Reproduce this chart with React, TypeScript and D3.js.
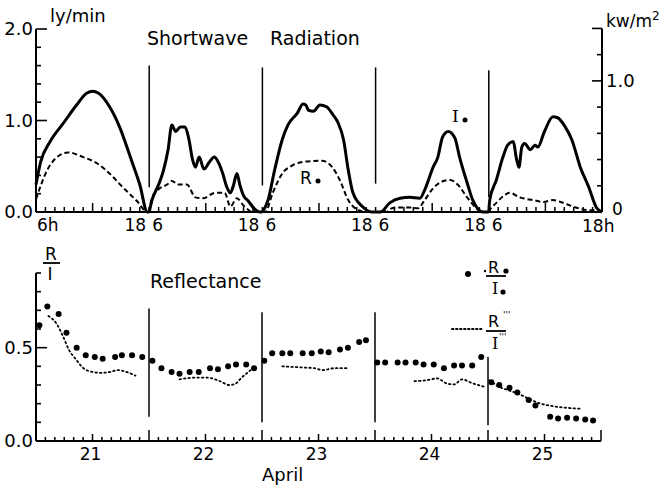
import React from "react";
import * as d3 from "d3";

// ---------- data (top panel: hour of day, ly/min) ----------
const days = [21, 22, 23, 24, 25];

const I_21 = [[6,0.30],[6.5,0.55],[7.5,0.77],[8.9,0.97],[10.3,1.17],[11.4,1.30],[12.0,1.32],[12.6,1.30],[13.8,1.15],[14.9,0.92],[16.0,0.60],[17.0,0.30],[17.8,0.0],[18,0]];
const R_21 = [[6,0.14],[7.2,0.46],[8.5,0.62],[9.4,0.65],[11.0,0.60],[12.5,0.53],[13.8,0.42],[15.2,0.27],[16.7,0.12],[17.8,0],[18,0]];
const I_22 = [[6,0],[6.3,0.13],[7.0,0.30],[7.5,0.45],[8.0,0.68],[8.4,0.95],[8.8,0.88],[9.3,0.93],[9.8,0.93],[10.2,0.80],[10.6,0.57],[10.9,0.49],[11.3,0.60],[11.8,0.47],[12.4,0.55],[12.9,0.60],[13.3,0.55],[13.8,0.42],[14.2,0.28],[14.6,0.21],[14.9,0.28],[15.3,0.42],[15.6,0.30],[16.0,0.18],[16.5,0.12],[17.2,0.03],[17.7,0],[18,0]];
const R_22 = [[6,0],[6.2,0.12],[6.9,0.24],[7.9,0.30],[8.4,0.34],[9.1,0.30],[10.0,0.30],[10.9,0.16],[11.7,0.15],[13.0,0.21],[14.0,0.21],[14.6,0.06],[15.3,0.15],[16.0,0.07],[17.0,0],[18,0]];
const I_23 = [[6,0],[6.6,0.13],[7.3,0.46],[8.1,0.79],[8.7,0.95],[9.7,1.08],[10.3,1.18],[10.6,1.17],[10.9,1.11],[11.4,1.10],[12.1,1.17],[12.8,1.15],[13.5,1.06],[14.0,0.98],[14.6,0.79],[15.1,0.46],[15.6,0.21],[16.6,0.06],[17.6,0],[18,0]];
const R_23 = [[6,0],[6.3,0],[7.1,0.21],[8.1,0.42],[9.2,0.51],[10.5,0.55],[12.3,0.56],[13.4,0.49],[14.2,0.35],[15.1,0.13],[16.2,0.02],[17,0],[18,0]];
const I_24 = [[6,0],[6.5,0],[7.5,0.10],[8.6,0.15],[9.6,0.16],[10.7,0.15],[11.2,0.24],[12.1,0.49],[12.6,0.60],[13.1,0.82],[13.7,0.88],[14.4,0.81],[14.9,0.60],[15.7,0.32],[16.3,0.13],[17.4,0],[18,0]];
const R_24 = [[6,0],[7.2,0],[7.5,0.03],[8.3,0.05],[9.5,0.05],[10.5,0.04],[11.2,0.13],[12.1,0.26],[13.0,0.33],[13.9,0.35],[14.7,0.30],[15.7,0.16],[16.7,0.04],[17.4,0],[18,0]];
const I_25 = [[6,0],[6.1,0.13],[6.8,0.35],[7.5,0.60],[8.0,0.73],[8.6,0.77],[8.9,0.60],[9.2,0.49],[9.5,0.71],[9.8,0.75],[10.4,0.68],[10.9,0.73],[11.2,0.71],[11.9,0.88],[12.8,1.04],[13.3,1.03],[14.1,0.93],[14.8,0.79],[15.7,0.49],[16.6,0.27],[17.4,0.05],[18,0]];
const R_25 = [[6,0],[6.1,0.02],[6.8,0.10],[7.5,0.17],[8.2,0.21],[9.3,0.16],[10.7,0.13],[11.8,0.11],[12.8,0.13],[13.9,0.10],[15.2,0.05],[16.5,0.02],[17.5,0.02],[18,0]];

const I_days = [I_21, I_22, I_23, I_24, I_25];
const R_days = [R_21, R_22, R_23, R_24, R_25];

// ---------- data (bottom panel: fractional day, R/I) ----------
const refT = [20.53,20.60,20.70,20.77,20.86,20.94,21.02,21.09,21.20,21.26,21.35,21.44,
  21.53,21.61,21.70,21.77,21.86,21.94,22.04,22.11,22.20,22.27,22.36,22.43,
  22.52,22.59,22.68,22.75,22.86,22.94,23.02,23.09,23.19,23.26,23.36,23.42,
  23.52,23.59,23.70,23.77,23.86,23.93,24.02,24.11,24.20,24.27,24.36,24.44,
  24.53,24.60,24.69,24.76,24.86,24.92,25.05,25.12,25.20,25.28,25.36,25.43];
const refV = [0.62,0.72,0.68,0.58,0.50,0.46,0.45,0.44,0.45,0.46,0.46,0.45,
  0.43,0.39,0.37,0.36,0.37,0.37,0.39,0.385,0.40,0.41,0.41,0.39,
  0.43,0.47,0.47,0.47,0.47,0.47,0.48,0.475,0.49,0.50,0.53,0.54,
  0.42,0.42,0.42,0.42,0.42,0.41,0.41,0.39,0.405,0.405,0.405,0.45,
  0.315,0.30,0.285,0.26,0.22,0.19,0.13,0.12,0.125,0.12,0.115,0.11];

const seg21 = [[20.61,0.67],[20.68,0.63],[20.74,0.56],[20.79,0.49],[20.85,0.44],[20.92,0.39],[21.0,0.37],[21.07,0.365],[21.16,0.37],[21.22,0.38],[21.30,0.37],[21.38,0.35]];
const seg22 = [[21.77,0.33],[21.92,0.34],[22.01,0.34],[22.13,0.32],[22.21,0.30],[22.26,0.305],[22.32,0.34],[22.38,0.37],[22.42,0.39]];
const seg23 = [[22.68,0.40],[22.83,0.395],[22.96,0.39],[23.04,0.38],[23.14,0.39],[23.25,0.39]];
const seg24 = [[23.85,0.32],[23.95,0.325],[24.05,0.335],[24.14,0.307],[24.20,0.303],[24.27,0.33],[24.36,0.31],[24.47,0.29]];
const seg25 = [[24.51,0.325],[24.60,0.29],[24.69,0.27],[24.78,0.25],[24.86,0.227],[24.95,0.203],[25.04,0.19],[25.16,0.18],[25.31,0.173]];
const ratioSegs = [seg21, seg22, seg23, seg24, seg25];

// boundary markers: top vertical line extents (ly/min) and bottom (R/I)
const topLineTop = [1.60, 1.58, 1.58, 1.55];
const topLineBot = [0.27, 0.29, 0.31, 0.16];
const botLineTop = [0.71, 0.69, 0.69, 0.45];
const botLineBot = [0.13, 0.10, 0.10, 0.085];

const leftTopTicks = [0, 0.2, 0.4, 0.6, 0.8, 1.0, 1.2, 1.4, 1.6, 1.8, 2.0];
const rightTicks = [0, 0.2, 0.4, 0.6, 0.8, 1.0, 1.2, 1.4];
const botTicks = [0, 0.1, 0.2, 0.3, 0.4, 0.5, 0.6, 0.7, 0.8, 0.9];

const FONT = "DejaVu Sans";

export default function App() {
  const xT = d3.scaleLinear().domain([0, 60]).range([36, 602]);
  const yT = d3.scaleLinear().domain([0, 2]).range([212, 29]);
  const yK = d3.scaleLinear().domain([0, 1]).range([212, 212 - 1.4331 * 91.5]);
  const xB = d3.scaleLinear().domain([20.5, 25.5]).range([36, 601]);
  const yB = d3.scaleLinear().domain([0, 0.9]).range([441, 273]);

  const lineFor = (di: number) =>
    d3.line<number[]>()
      .x((p) => xT(di * 12 + (p[0] - 6)))
      .y((p) => yT(p[1]))
      .curve(d3.curveMonotoneX);

  const segLine = d3.line<number[]>().x((p) => xB(p[0])).y((p) => yB(p[1])).curve(d3.curveMonotoneX);

  const hourTicks = d3.range(0, 61);
  const botXTicks = d3.range(0, 61).map((i) => 20.5 + i / 12);
  const boundaries = [1, 2, 3, 4];

  const txt = { fontFamily: FONT, fill: "#000" } as any;

  return (
    <svg width={663} height={485} style={{ position: "absolute", left: 0, top: 0, background: "#fff" }}>
      <rect x={0} y={0} width={663} height={485} fill="#fff" />
      {/* ---------- TOP PANEL ---------- */}
      <line x1={36} x2={36} y1={yT(2)} y2={yT(0)} stroke="#000" strokeWidth={2} />
      <line x1={36} x2={602} y1={yT(0)} y2={yT(0)} stroke="#000" strokeWidth={2} />
      <line x1={602} x2={602} y1={yK(1.4)} y2={yK(0)} stroke="#000" strokeWidth={2} />
      {leftTopTicks.map((v) => (
        <line key={"lt" + v} x1={36} x2={v === 1 || v === 2 ? 47 : 41} y1={yT(v)} y2={yT(v)} stroke="#000" strokeWidth={1.6} />
      ))}
      {rightTicks.map((v) => (
        <line key={"rt" + v} x1={v === 1 || v === 1.4 ? 592 : 597} x2={602} y1={yK(v)} y2={yK(v)} stroke="#000" strokeWidth={1.6} />
      ))}
      {hourTicks.map((t) => (
        <line key={"ht" + t} x1={xT(t)} x2={xT(t)} y1={yT(0)} y2={yT(0) - (t % 12 === 6 ? 9 : 5)} stroke="#000" strokeWidth={1.5} />
      ))}
      <text x={33} y={yT(2) + 6} textAnchor="end" fontSize={18} {...txt}>2.0</text>
      <text x={33} y={yT(1) + 6} textAnchor="end" fontSize={18} {...txt}>1.0</text>
      <text x={33} y={yT(0) + 6} textAnchor="end" fontSize={18} {...txt}>0.0</text>
      <text x={50} y={22} fontSize={18} {...txt}>ly/min</text>
      <text x={606} y={yK(1) + 6} fontSize={18} {...txt}>1.0</text>
      <text x={612} y={yK(0) + 3} fontSize={17} {...txt}>0</text>
      <text x={606} y={27} fontSize={17} {...txt}>kw/m<tspan dy={-7} fontSize={12}>2</tspan></text>
      <text x={147} y={45} fontSize={19} {...txt}>Shortwave</text>
      <text x={270} y={45} fontSize={19} {...txt}>Radiation</text>

      {/* top x labels */}
      <text x={xT(0) + 1} y={231} fontSize={17} {...txt}>6h</text>
      {boundaries.map((b) => (
        <g key={"bl" + b}>
          <text x={xT(b * 12) - 3} y={231} textAnchor="end" fontSize={17} {...txt}>18</text>
          <text x={xT(b * 12) + 3} y={231} fontSize={17} {...txt}>6</text>
        </g>
      ))}
      <text x={xT(60) - 20} y={232} fontSize={17} {...txt}>18h</text>

      {/* boundary lines */}
      {boundaries.map((b, i) => (
        <line key={"tv" + b} x1={xT(b * 12)} x2={xT(b * 12)} y1={yT(topLineTop[i])} y2={yT(topLineBot[i])} stroke="#000" strokeWidth={1.5} />
      ))}

      {/* curves */}
      {R_days.map((d, i) => (
        <path key={"r" + i} d={lineFor(i)(d) || ""} fill="none" stroke="#000" strokeWidth={2} strokeDasharray="5,3" />
      ))}
      {I_days.map((d, i) => (
        <path key={"i" + i} d={lineFor(i)(d) || ""} fill="none" stroke="#000" strokeWidth={3} strokeLinejoin="round" />
      ))}
      <text x={300} y={184} fontSize={17} {...txt}>R</text>
      <circle cx={318} cy={181} r={2.5} fill="#000" />
      <text x={452} y={122} fontSize={17} fontFamily="DejaVu Serif" fill="#000">I</text>
      <circle cx={465} cy={120} r={2.5} fill="#000" />

      {/* ---------- BOTTOM PANEL ---------- */}
      <line x1={36} x2={36} y1={yB(0.9)} y2={yB(0)} stroke="#000" strokeWidth={2} />
      <line x1={36} x2={601} y1={yB(0)} y2={yB(0)} stroke="#000" strokeWidth={2} />
      {botTicks.map((v) => (
        <line key={"bt" + v} x1={36} x2={v === 0.5 ? 47 : 41} y1={yB(v)} y2={yB(v)} stroke="#000" strokeWidth={1.6} />
      ))}
      {botXTicks.map((t, i) => (
        <line key={"bx" + i} x1={xB(t)} x2={xB(t)} y1={yB(0)} y2={yB(0) - (i % 12 === 0 ? 11 : i % 12 === 6 ? 7 : 4)} stroke="#000" strokeWidth={1.5} />
      ))}
      <text x={33} y={yB(0.5) + 6} textAnchor="end" fontSize={18} {...txt}>0.5</text>
      <text x={33} y={yB(0) + 6} textAnchor="end" fontSize={18} {...txt}>0.0</text>
      {days.map((d) => (
        <text key={"dl" + d} x={xB(d) - 2} y={460} textAnchor="middle" fontSize={17} {...txt}>{d}</text>
      ))}
      <text x={262} y={481} fontSize={18} {...txt}>April</text>

      {/* R/I axis label */}
      <text x={51} y={260} textAnchor="middle" fontSize={17} {...txt}>R</text>
      <line x1={43} x2={60} y1={263} y2={263} stroke="#000" strokeWidth={1.8} />
      <text x={50} y={280} textAnchor="middle" fontSize={17} {...txt}>I</text>
      <text x={150} y={288} fontSize={19} {...txt}>Reflectance</text>

      {boundaries.map((b, i) => (
        <line key={"bv" + b} x1={xB(20.5 + b)} x2={xB(20.5 + b)} y1={yB(botLineTop[i])} y2={yB(botLineBot[i])} stroke="#000" strokeWidth={1.5} />
      ))}

      {ratioSegs.map((s, i) => (
        <path key={"s" + i} d={segLine(s) || ""} fill="none" stroke="#000" strokeWidth={1.8} strokeDasharray="1.5,3" strokeLinecap="round" />
      ))}
      {refT.map((t, i) => (
        <circle key={"c" + i} cx={xB(t)} cy={yB(refV[i])} r={3} fill="#000" />
      ))}

      {/* legend */}
      <circle cx={468} cy={274} r={3} fill="#000" />
      <circle cx={485} cy={271} r={1.2} fill="#000" />
      <text x={488} y={273} fontSize={16} {...txt}>R</text>
      <circle cx={506} cy={271} r={2.6} fill="#000" />
      <line x1={486} x2={506} y1={276} y2={276} stroke="#000" strokeWidth={1.8} />
      <text x={492} y={294} fontSize={16} fontFamily="DejaVu Serif" fill="#000">I</text>
      <circle cx={503} cy={292} r={2.6} fill="#000" />

      <line x1={452} x2={483} y1={329} y2={329} stroke="#000" strokeWidth={1.8} strokeDasharray="1.5,2.5" strokeLinecap="round" />
      <text x={488} y={327} fontSize={16} {...txt}>R</text>
      <text x={503} y={318} fontSize={9} {...txt}>'''</text>
      <line x1={486} x2={506} y1={331} y2={331} stroke="#000" strokeWidth={1.8} />
      <text x={492} y={349} fontSize={16} fontFamily="DejaVu Serif" fill="#000">I</text>
      <text x={499} y={340} fontSize={9} {...txt}>'''</text>
    </svg>
  );
}
